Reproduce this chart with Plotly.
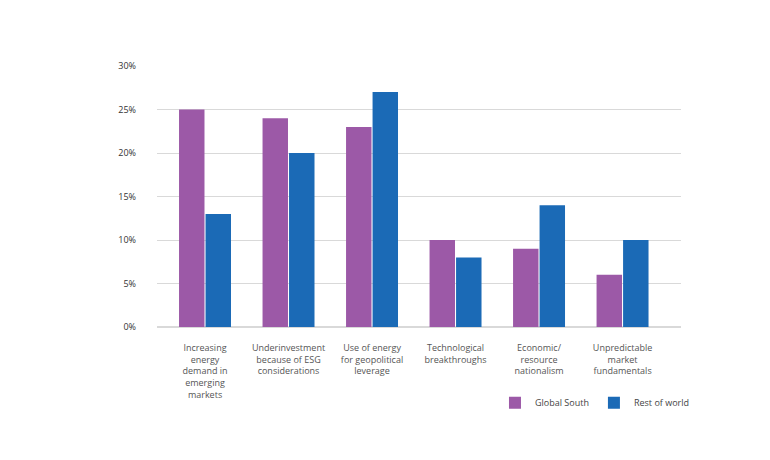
import plotly.graph_objects as go

categories = [
    "Increasing<br>energy<br>demand in<br>emerging<br>markets",
    "Underinvestment<br>because of ESG<br>considerations",
    "Use of energy<br>for geopolitical<br>leverage",
    "Technological<br>breakthroughs",
    "Economic/<br>resource<br>nationalism",
    "Unpredictable<br>market<br>fundamentals",
]
global_south = [25, 24, 23, 10, 9, 6]
rest_of_world = [13, 20, 27, 8, 14, 10]
y_ticks = [0, 5, 10, 15, 20, 25, 30]
y_tick_labels = ["0%", "5%", "10%", "15%", "20%", "25%", "30%"]

x_idx = list(range(len(categories)))

fig = go.Figure()
fig.add_trace(go.Bar(x=x_idx, y=global_south, name="Global South",
                     marker=dict(color="#9C59A7", line=dict(width=0))))
fig.add_trace(go.Bar(x=x_idx, y=rest_of_world, name="Rest of world",
                     marker=dict(color="#1B6AB6", line=dict(width=0))))

fig.update_layout(
    width=762, height=452,
    margin=dict(l=149, r=89, t=58, b=133),
    paper_bgcolor="white", plot_bgcolor="white",
    barmode="group", bargap=0.365, bargroupgap=0.04,
    font=dict(family="Open Sans, sans-serif", size=9, color="#444"),
    showlegend=True,
    legend=dict(orientation="h", x=0.645, y=-0.29, xanchor="left", yanchor="middle",
                font=dict(size=9, color="#444"), traceorder="normal"),
    xaxis=dict(
        tickmode="array", tickvals=x_idx, ticktext=categories,
        range=[-0.575, 5.70], showgrid=False, zeroline=False, showline=False,
        ticks="", ticklabelstandoff=14, tickfont=dict(size=9, color="#555"),
    ),
    yaxis=dict(
        tickmode="array", tickvals=y_ticks, ticktext=y_tick_labels,
        range=[0, 30], showgrid=True, gridcolor="#D9D9D9", gridwidth=1,
        zeroline=True, zerolinecolor="#D9D9D9", showline=False,
        ticks="", ticklabelstandoff=20, tickfont=dict(size=9, color="#333"),
    ),
)

fig.write_html("out.html")
